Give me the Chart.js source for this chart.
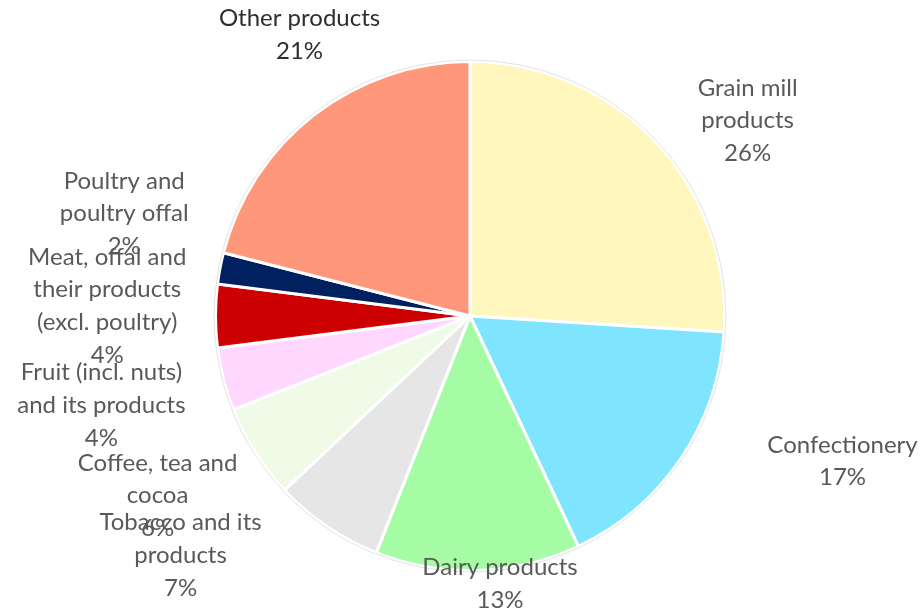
<!DOCTYPE html>
<html><head><meta charset="utf-8">
<script src="https://cdn.jsdelivr.net/npm/chart.js@4.4.1/dist/chart.umd.min.js"></script>
<style>html,body{margin:0;padding:0;background:#fff;overflow:hidden}</style>
</head><body>
<canvas id="c" width="923" height="610"></canvas>
<script>
// ---- data ----
const categories = [
  ["Grain mill", "products"],
  ["Confectionery"],
  ["Dairy products"],
  ["Tobacco and its", "products"],
  ["Coffee, tea and", "cocoa"],
  ["Fruit (incl. nuts)", "and its products"],
  ["Meat, offal and", "their products", "(excl. poultry)"],
  ["Poultry and", "poultry offal"],
  ["Other products"]
];
const shares = [26, 17, 13, 7, 6, 4, 4, 2, 21];

// ---- styles ----
const sliceColors = ["#FFF7BD", "#7FE5FF", "#A6FCA4", "#E6E6E6", "#EFFBE6", "#FFD7FF", "#CC0000", "#002060", "#FF977B"];
const labelColors = ["#595959", "#595959", "#595959", "#595959", "#595959", "#595959", "#595959", "#595959", "#2E2E2E"];

const labelPlugin = {
  id: 'sliceLabels',
  afterDatasetsDraw(chart, args, opts) {
    const ctx = chart.ctx;
    const meta = chart.getDatasetMeta(0);
    const data = chart.data.datasets[0].data;
    const total = data.reduce((a, b) => a + b, 0);
    ctx.save();
    // faint outline around pie
    const a0 = meta.data[0];
    ctx.beginPath();
    ctx.arc(a0.x, a0.y, a0.outerRadius + 1.5, 0, Math.PI * 2);
    ctx.strokeStyle = '#E3E3E3';
    ctx.lineWidth = 1;
    ctx.stroke();

    ctx.font = opts.font;
    ctx.textAlign = 'center';
    ctx.textBaseline = 'middle';
    meta.data.forEach((arc, i) => {
      const place = opts.placement[i];
      const ang = place[1] * Math.PI / 180;
      const d = arc.outerRadius * place[0];
      const cx = arc.x + d * Math.sin(ang);
      const cy = arc.y - d * Math.cos(ang);
      const lines = chart.data.labels[i].concat([Math.round(data[i] / total * 100) + '%']);
      const h = opts.lineHeight;
      const startY = cy - (lines.length - 1) * h / 2;
      ctx.fillStyle = labelColors[i];
      lines.forEach((t, k) => ctx.fillText(t, cx, startY + k * h));
    });
    ctx.restore();
  }
};

new Chart(document.getElementById('c'), {
  type: 'pie',
  data: {
    labels: categories,
    datasets: [{
      data: shares,
      backgroundColor: sliceColors,
      borderColor: '#FFFFFF',
      borderWidth: 3
    }]
  },
  options: {
    responsive: false,
    animation: false,
    layout: { padding: { left: 214, right: 197, top: 60, bottom: 38 } },
    plugins: {
      legend: { display: false },
      tooltip: { enabled: false },
      sliceLabels: {
        font: '24px Lato',
        lineHeight: 32.7,
        // [distance as multiple of radius, angle in degrees clockwise from top]
        placement: [[1.334, 54.85], [1.571, 111.3], [1.058, 173.6], [1.476, 230.4], [1.416, 240.1], [1.49, 256.4], [1.426, 271.6], [1.417, 286.5], [1.293, 328.8]]
      }
    }
  },
  plugins: [labelPlugin]
});
</script>
</body></html>
